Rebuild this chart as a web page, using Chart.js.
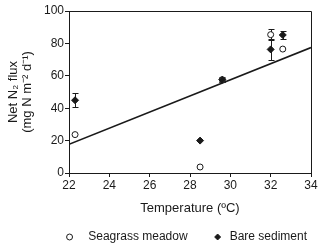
<!DOCTYPE html>
<html>
<head>
<meta charset="utf-8">
<script src="https://cdn.jsdelivr.net/npm/chart.js@4/dist/chart.umd.min.js"></script>
<style>
  html, body { margin: 0; padding: 0; background: #fff; }
  #wrap { width: 320px; height: 249px; }
</style>
</head>
<body>
<div id="wrap"><canvas id="c"></canvas></div>
<script>
// Net N2 flux vs temperature, two habitats plus a linear fit

const seagrassTemp = [22.3, 28.5, 29.6, 32.0, 32.6];
const seagrassFlux = [23.7, 3.7, 57.6, 85.4, 76.5];
const seagrassErr = [0, 0, 1.2, 3.3, 0];

const bareTemp = [22.3, 28.5, 29.6, 32.0, 32.6];
const bareFlux = [44.9, 20.0, 57.6, 76.3, 85.2];
const bareErr = [4.3, 0, 1.5, 6.3, 2.5];

const fitTemp = [22, 34];
const fitFlux = [17.7, 77.4];

const xTicks = [22, 24, 26, 28, 30, 32, 34];
const yTicks = [0, 20, 40, 60, 80, 100];

const toPoints = (xs, ys) => xs.map((x, i) => ({ x: x, y: ys[i] }));

const FONT = "'Liberation Sans', Arial, sans-serif";
const INK = "#1a1a1a";
const NB = "\u00A0"; // canvas drops ordinary leading spaces

// Error bars, drawn through the chart scales
const errorBars = {
  id: "errorBars",
  beforeDatasetsDraw(chart) {
    const ctx = chart.ctx;
    const xs = chart.scales.x;
    const ys = chart.scales.y;
    chart.data.datasets.forEach((ds) => {
      if (!ds.errors) return;
      ctx.save();
      ctx.strokeStyle = INK;
      ctx.lineWidth = 1;
      ds.data.forEach((p, i) => {
        const e = ds.errors[i];
        if (!e) return;
        const px = Math.round(xs.getPixelForValue(p.x)) + 0.5;
        const top = Math.round(ys.getPixelForValue(p.y + e)) + 0.5;
        const bot = Math.round(ys.getPixelForValue(p.y - e)) + 0.5;
        ctx.beginPath();
        ctx.moveTo(px, top);
        ctx.lineTo(px, bot);
        ctx.moveTo(px - 3, top);
        ctx.lineTo(px + 3, top);
        ctx.moveTo(px - 3, bot);
        ctx.lineTo(px + 3, bot);
        ctx.stroke();
      });
      ctx.restore();
    });
  },
};

// Top and right sides of the plot frame
const frame = {
  id: "frame",
  afterDraw(chart) {
    const a = chart.chartArea;
    const ctx = chart.ctx;
    ctx.save();
    ctx.strokeStyle = INK;
    ctx.lineWidth = 1;
    ctx.beginPath();
    ctx.moveTo(a.left, Math.round(a.top) + 0.5);
    ctx.lineTo(Math.round(a.right) + 0.5, Math.round(a.top) + 0.5);
    ctx.lineTo(Math.round(a.right) + 0.5, a.bottom);
    ctx.stroke();
    ctx.restore();
  },
};

new Chart(document.getElementById("c"), {
  type: "scatter",
  data: {
    datasets: [
      {
        label: "Linear fit",
        type: "line",
        data: toPoints(fitTemp, fitFlux),
        borderColor: INK,
        borderWidth: 1.6,
        pointRadius: 0,
        fill: false,
        order: 3,
      },
      {
        label: NB + NB + "Seagrass meadow" + NB.repeat(6),
        data: toPoints(seagrassTemp, seagrassFlux),
        errors: seagrassErr,
        pointStyle: "circle",
        pointRadius: 3,
        borderColor: INK,
        backgroundColor: "#fff",
        borderWidth: 1,
        order: 2,
      },
      {
        label: "Bare sediment",
        data: toPoints(bareTemp, bareFlux),
        errors: bareErr,
        pointStyle: "rectRot",
        pointRadius: 3.5,
        borderColor: INK,
        backgroundColor: INK,
        borderWidth: 1,
        order: 1,
      },
    ],
  },
  options: {
    responsive: true,
    maintainAspectRatio: false,
    animation: false,
    layout: { padding: { top: 11, right: 9, left: 0, bottom: -4 } },
    plugins: {
      tooltip: { enabled: false },
      legend: {
        position: "bottom",
        align: "end",
        labels: {
          usePointStyle: true,
          boxWidth: 12,
          boxHeight: 4.2,
          padding: 4,
          color: INK,
          font: { family: FONT, size: 12 },
          filter: (item) => item.text !== "Linear fit",
          sort: (a, b) => a.datasetIndex - b.datasetIndex,
        },
      },
    },
    scales: {
      x: {
        type: "linear",
        min: 22,
        max: 34,
        afterBuildTicks: (s) => { s.ticks = xTicks.map((v) => ({ value: v })); },
        afterFit: (s) => { s.height = 54; },
        ticks: { color: INK, padding: 1, font: { family: FONT, size: 12 } },
        grid: { drawOnChartArea: false, drawTicks: true, tickLength: 4, color: INK },
        border: { color: INK, width: 1 },
        title: {
          display: true,
          text: "Temperature (ºC)",
          color: INK,
          font: { family: FONT, size: 13 },
          padding: { top: 6, bottom: 11 },
        },
      },
      y: {
        min: 0,
        max: 100,
        afterBuildTicks: (s) => { s.ticks = yTicks.map((v) => ({ value: v })); },
        afterFit: (s) => { s.width = 69; },
        ticks: { color: INK, padding: 1, font: { family: FONT, size: 12 } },
        grid: { drawOnChartArea: false, drawTicks: true, tickLength: 4, color: INK },
        border: { color: INK, width: 1 },
        title: {
          display: true,
          text: ["Net N₂ flux", "(mg N m⁻² d⁻¹)"],
          color: INK,
          font: { family: FONT, size: 13, lineHeight: 1.1 },
          padding: { top: 6, bottom: 0 },
        },
      },
    },
  },
  plugins: [errorBars, frame],
});
</script>
</body>
</html>
